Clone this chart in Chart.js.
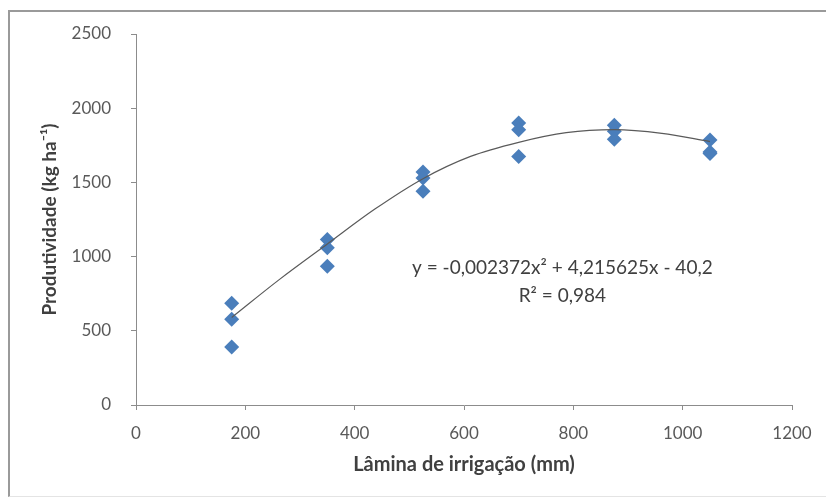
<!DOCTYPE html>
<html>
<head>
<meta charset="utf-8">
<script src="https://cdn.jsdelivr.net/npm/chart.js@4/dist/chart.umd.min.js"></script>
<style>
  html, body { margin:0; padding:0; background:#fff; }
  #wrap { position:absolute; left:0; top:0; width:826px; height:497px; overflow:hidden; }
  #frame { position:absolute; left:8px; top:10px; width:840px; height:484px;
           border-left:2px solid #9a9a9a; border-top:2px solid #9a9a9a; border-bottom:1px solid #e4e4e4; }
  canvas { position:absolute; left:0; top:0; }
</style>
</head>
<body>
<div id="wrap">
  <div id="frame"></div>
  <canvas id="c" width="826" height="497"></canvas>
</div>
<script>
// Irrigation depth (mm) and yield replicates (kg/ha)
const lamina = [175, 350, 525, 700, 875, 1050];
const rep1 = [685, 1115, 1570, 1900, 1885, 1785];
const rep2 = [578, 1060, 1530, 1855, 1845, 1705];
const rep3 = [390, 935, 1440, 1675, 1790, 1695];
// Trendline
const trendX = [175, 262, 350, 437, 525, 612, 700, 787, 875, 962, 1050];
const trendY = [590, 845, 1085, 1320, 1525, 1675, 1770, 1835, 1855, 1830, 1775];
// Labels
const xTitle = 'Lâmina de irrigação (mm)';
const yTitle = 'Produtividade (kg ha⁻¹)';
const equationLines = ['y = -0,002372x² + 4,215625x - 40,2', 'R² = 0,984'];
const equationAnchor = [780, 925]; // data coords of first line centre

const points = [];
[rep1, rep2, rep3].forEach(r => r.forEach((v, i) => points.push({x: lamina[i], y: v})));
const trend = trendX.map((x, i) => ({x: x, y: trendY[i]}));

const FONT = 'Lato, "Open Sans", sans-serif';

const eqPlugin = {
  id: 'eq',
  afterDatasetsDraw(chart) {
    const ctx = chart.ctx;
    const xs = chart.scales.x, ys = chart.scales.y;
    const cx = xs.getPixelForValue(equationAnchor[0]);
    const cy = ys.getPixelForValue(equationAnchor[1]);
    ctx.save();
    ctx.fillStyle = '#404040';
    ctx.font = '19px ' + FONT;
    ctx.textAlign = 'center';
    ctx.textBaseline = 'middle';
    equationLines.forEach((t, i) => ctx.fillText(t, cx, cy + i * 28));
    ctx.restore();
  }
};

new Chart(document.getElementById('c'), {
  type: 'scatter',
  data: {
    datasets: [
      {
        label: 'Produtividade',
        data: points,
        pointStyle: 'rectRot',
        pointRadius: 7.5,
        pointHoverRadius: 7.5,
        backgroundColor: '#4a7ebb',
        borderColor: '#4a7ebb',
        borderWidth: 0,
        order: 2
      },
      {
        label: 'Tendência',
        data: trend,
        type: 'line',
        showLine: true,
        pointRadius: 0,
        borderColor: '#5a5a5a',
        borderWidth: 1.2,
        cubicInterpolationMode: 'monotone',
        fill: false,
        order: 1
      }
    ]
  },
  options: {
    responsive: false,
    animation: false,
    layout: { padding: { left: 30, top: 34, right: 34, bottom: 12 } },
    plugins: { legend: { display: false }, tooltip: { enabled: false } },
    scales: {
      x: {
        type: 'linear',
        min: 0, max: 1200,
        afterFit(s) { s.height = 497 - 405 - 12; },
        ticks: { stepSize: 200, color: '#595959', font: { family: FONT, size: 17 }, padding: 13, maxRotation: 0,
                 callback: v => String(v) },
        grid: { display: true, drawOnChartArea: false, drawTicks: true, tickLength: 5, color: '#8c8c8c' },
        border: { display: true, color: '#8c8c8c', width: 1 },
        title: { display: true, text: xTitle, color: '#404040', font: { family: FONT, size: 20, weight: 'bold' }, padding: { top: 4, bottom: 8 } }
      },
      y: {
        type: 'linear',
        min: 0, max: 2500,
        afterFit(s) { s.width = 136 - 30; },
        ticks: { stepSize: 500, color: '#595959', font: { family: FONT, size: 17 }, padding: 20,
                 callback: v => String(v) },
        grid: { display: true, drawOnChartArea: false, drawTicks: true, tickLength: 5, color: '#8c8c8c' },
        border: { display: true, color: '#8c8c8c', width: 1 },
        title: { display: true, text: yTitle, color: '#404040', font: { family: FONT, size: 19, weight: 'bold' }, padding: { top: 8, bottom: 4 } }
      }
    }
  },
  plugins: [eqPlugin]
});
</script>
</body>
</html>
